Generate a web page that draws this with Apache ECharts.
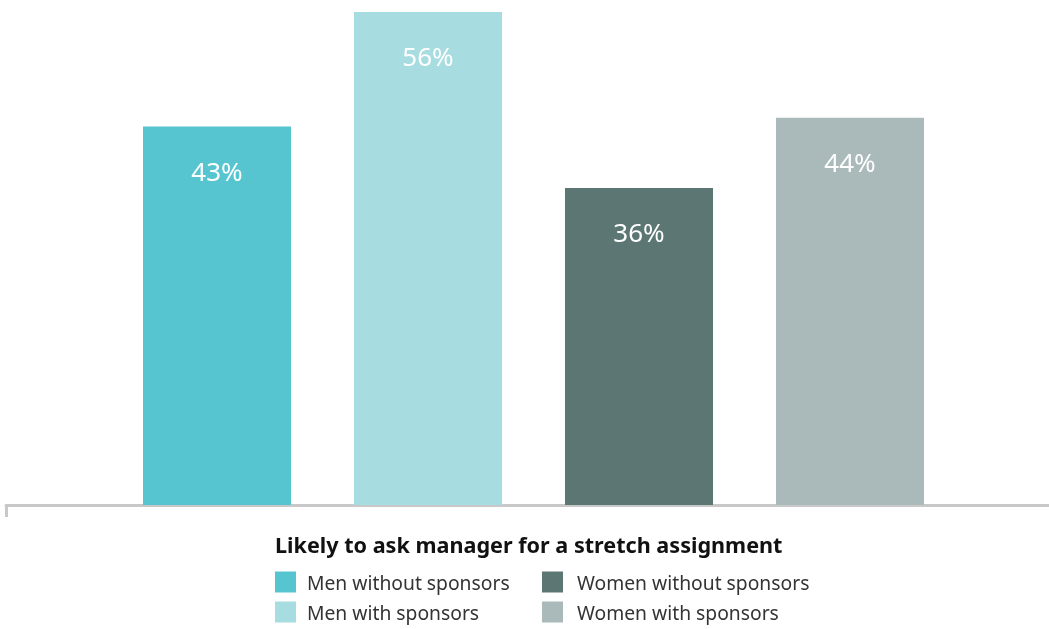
<!DOCTYPE html>
<html>
<head>
<meta charset="utf-8">
<script src="https://cdn.jsdelivr.net/npm/echarts@6/dist/echarts.min.js"></script>
<style>html,body{margin:0;padding:0;background:#fff}#c{width:1049px;height:629px}</style>
</head>
<body>
<div id="c"></div>
<script>
const categories = ['Men without sponsors', 'Men with sponsors', 'Women without sponsors', 'Women with sponsors'];
const values = [43, 56, 36, 44];
const colors = ['#56C5D0', '#A7DCE1', '#5C7674', '#AABABB'];
const chartTitle = 'Likely to ask manager for a stretch assignment';

const FONT = '"Noto Sans", sans-serif';
const series = categories.map((name, i) => ({
  name: name,
  type: 'bar',
  stack: 'all',
  barWidth: 148,
  xAxisIndex: 0,
  yAxisIndex: 0,
  itemStyle: { color: colors[i] },
  label: {
    show: true,
    position: 'insideTop',
    distance: 34,
    formatter: '{c}%',
    color: '#fff',
    fontSize: 26,
    fontFamily: FONT
  },
  data: categories.map((c, j) => (j === i ? values[i] : '-'))
}));

const legendText = (padLeft) => ({
  fontFamily: FONT, fontSize: 19.3, color: '#333',
  rich: { t: { fontFamily: FONT, fontSize: 19.3, color: '#333', padding: [6, 0, 0, padLeft], lineHeight: 20 } }
});

const chart = echarts.init(document.getElementById('c'), null, { renderer: 'canvas' });
chart.setOption({
  animation: false,
  title: {
    text: chartTitle,
    left: 275,
    top: 536,
    padding: 0,
    textStyle: { fontFamily: FONT, fontSize: 21.6, fontWeight: 'bold', color: '#111' }
  },
  legend: [
    {
      data: [categories[0], categories[1]],
      orient: 'vertical',
      left: 275, top: 569.5, height: 90,
      itemWidth: 21, itemHeight: 21, itemGap: 5,
      icon: 'rect',
      formatter: (n) => '{t|' + n + '}',
      textStyle: legendText(6),
      padding: 0
    },
    {
      data: [categories[2], categories[3]],
      orient: 'vertical',
      left: 542, top: 569.5, height: 90,
      itemWidth: 21, itemHeight: 21, itemGap: 5,
      icon: 'rect',
      formatter: (n) => '{t|' + n + '}',
      textStyle: legendText(9),
      padding: 0
    }
  ],
  grid: [
    { left: 111.5, width: 844, top: 12, bottom: 124 },
    { left: 6, right: 0, top: 12, bottom: 124 }
  ],
  xAxis: [
    {
      type: 'category', gridIndex: 0, data: categories,
      axisLine: { show: false }, axisTick: { show: false }, axisLabel: { show: false }
    },
    {
      type: 'category', gridIndex: 1, data: ['', ''], boundaryGap: false,
      axisLine: { show: true, lineStyle: { color: '#C8C8C8', width: 3 } },
      axisTick: { show: true, length: 12, interval: (idx) => idx === 0, lineStyle: { color: '#C8C8C8', width: 3 } },
      axisLabel: { show: false }
    }
  ],
  yAxis: [
    { type: 'value', gridIndex: 0, min: 0, max: 56, show: false, splitLine: { show: false } },
    { type: 'value', gridIndex: 1, min: 0, max: 56, show: false, splitLine: { show: false } }
  ],
  series: series
});
</script>
</body>
</html>
